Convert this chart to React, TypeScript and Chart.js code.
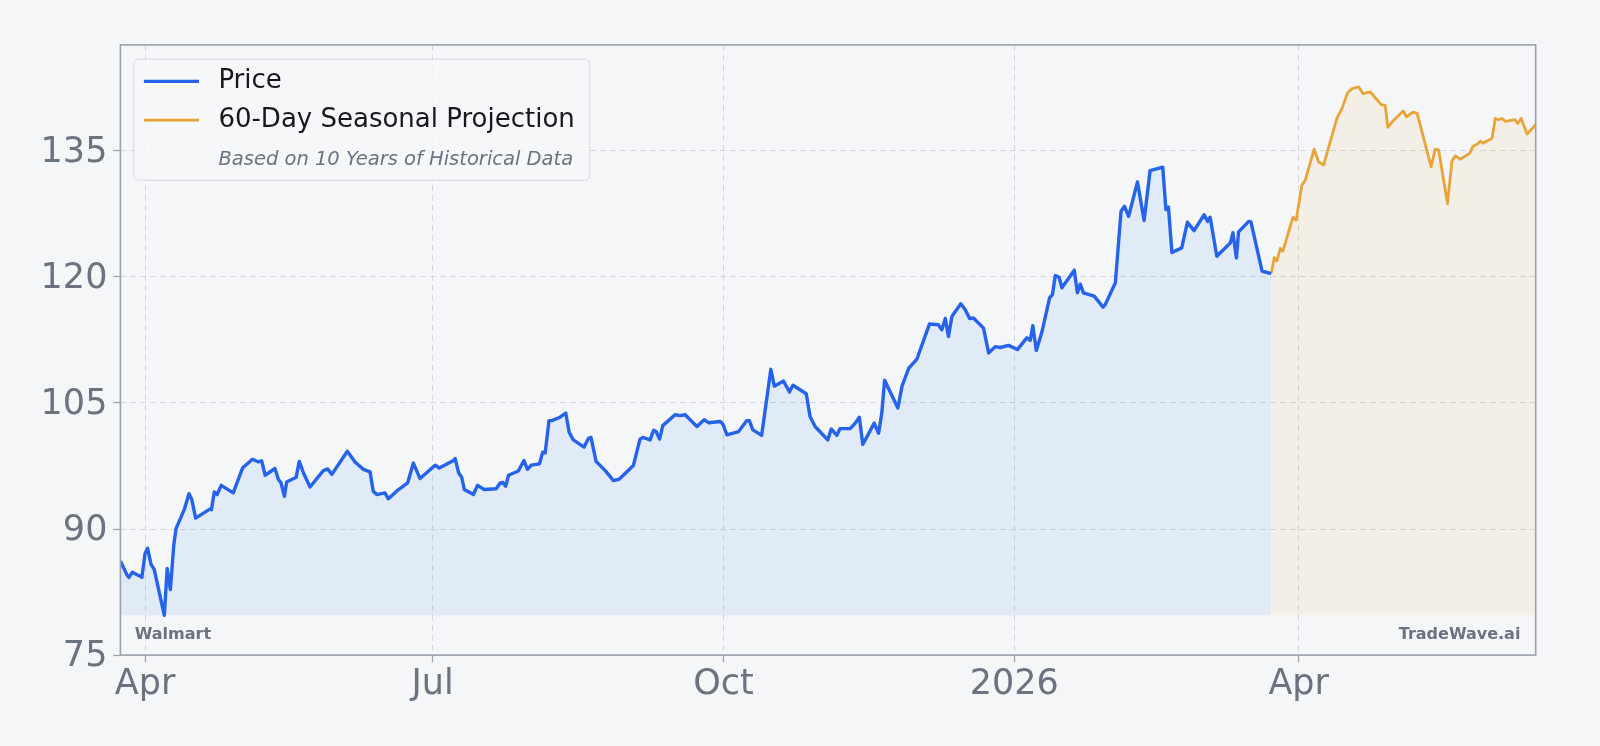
import React, { useEffect, useRef } from "react";
import { Chart, registerables } from "chart.js";

Chart.register(...registerables);

// Day offsets from 1 Apr 2025
const priceDays = [
  -7.8, -5.8, -5.1, -4.0, -1.0, 0.0, 0.8, 1.9, 2.9, 6.1, 7.0, 8.0, 9.1, 9.8, 12.4, 13.9, 14.8, 16.0,
  20.6, 21.0, 21.9, 22.8, 24.1, 27.9, 30.9, 34.0, 35.7, 36.9, 38.0, 41.1, 42.2, 43.0, 44.1, 44.8,
  47.8, 48.8, 50.1, 52.2, 56.4, 57.8, 59.1, 64.0, 66.5, 69.1, 71.2, 72.2, 73.3, 75.9, 77.0, 80.2,
  83.1, 84.9, 87.0, 91.8, 93.1, 97.6, 98.1, 99.2, 100.2, 101.0, 103.9, 105.2, 107.3, 111.1, 112.3,
  113.2, 114.1, 115.0, 118.1, 119.9, 121.0, 122.2, 124.8, 125.8, 126.6, 127.8, 128.7, 131.3, 133.1,
  134.2, 135.5, 138.9, 140.3, 141.1, 142.7, 145.6, 148.2, 150.1, 154.5, 156.6, 157.5, 159.8, 160.9,
  161.7, 162.8, 163.8, 167.7, 169.3, 170.9, 174.6, 176.9, 178.3, 182.0, 182.8, 184.1, 187.8, 190.4,
  191.2, 192.3, 195.1, 198.0, 199.1, 202.0, 203.9, 205.0, 209.2, 210.4, 212.0, 216.0, 217.1, 218.9,
  219.9, 223.1, 224.7, 226.0, 227.1, 230.7, 232.1, 233.1, 234.0, 238.2, 239.5, 241.6, 244.2, 248.2,
  251.0, 252.1, 253.2, 254.2, 255.3, 258.1, 259.5, 260.9, 262.1, 265.3, 266.9, 269.0, 270.6, 273.2,
  276.0, 279.0, 280.1, 280.9, 282.0, 283.8, 286.2, 287.1, 288.0, 289.2, 290.1, 294.0, 295.0, 295.9,
  296.9, 300.3, 301.4, 303.1, 303.8, 307.0, 308.8, 309.9, 311.2, 314.0, 316.1, 318.0, 322.0, 323.0,
  323.8, 324.9, 328.0, 329.8, 331.9, 335.1, 336.2, 337.0, 339.1, 343.4, 344.2, 345.3, 346.0, 349.2,
  349.9, 353.4, 356.3,
];
const priceValues = [
  86.2, 84.6, 84.25, 84.85, 84.25, 87.1, 87.7, 85.8, 85.2, 79.73, 85.3, 82.8, 88.1, 90.05, 92.3, 94.2, 93.5, 91.3,
  92.4, 92.3, 94.4, 94.1, 95.2, 94.3, 97.3, 98.3, 98.0, 98.1, 96.4, 97.2, 95.9, 95.5, 93.9, 95.6,
  96.15, 98.05, 96.7, 95.0, 96.95, 97.15, 96.5, 99.25, 97.95, 97.1, 96.8, 94.5, 94.1, 94.3, 93.6, 94.7,
  95.5, 97.85, 96.0, 97.6, 97.25, 98.15, 98.4, 96.7, 96.15, 94.7, 94.1, 95.2, 94.7, 94.8, 95.45,
  95.55, 95.1, 96.4, 96.9, 98.15, 97.1, 97.6, 97.75, 99.15, 99.05, 102.9, 102.9, 103.3, 103.8,
  101.5, 100.6, 99.75, 100.8, 100.9, 98.05, 96.95, 95.75, 95.95, 97.55, 100.7, 100.9, 100.6, 101.75,
  101.6, 100.7, 102.3, 103.6, 103.5, 103.6, 102.2, 103.0, 102.65, 102.8, 102.5, 101.2, 101.6, 102.9,
  102.9, 101.8, 101.15, 109.0, 107.0, 107.6, 106.3, 107.1, 106.1, 103.4, 102.2, 100.6, 101.9, 101.15,
  101.95, 101.95, 102.6, 103.3, 100.05, 102.6, 101.4, 103.8, 107.7, 104.4, 107.0, 109.1, 110.2, 114.4,
  114.3, 113.7, 115.05, 112.9, 115.3, 116.8, 116.1, 115.05, 115.1, 113.9, 110.95, 111.7, 111.6, 111.85,
  111.35, 112.75, 112.45, 114.2, 111.25, 113.5, 117.5, 117.9, 120.15, 119.95, 118.7, 120.8, 118.1, 119.15,
  118.1, 117.7, 117.2, 116.4, 116.7, 119.3, 127.8, 128.4, 127.2, 131.3, 126.7, 132.65, 133.05, 128.0,
  128.3, 122.9, 123.45, 126.5, 125.5, 127.4, 126.6, 127.1, 122.45, 124.05, 125.25, 122.25, 125.35, 126.6,
  126.55, 120.7, 120.4,
];

const projDays = [
  356.3, 357.3, 358.1, 359.2, 360.0, 363.2, 364.2, 366.0, 367.1, 369.9, 371.3, 372.9, 377.1, 378.7,
  380.5, 381.9, 384.0, 385.4, 387.7, 391.1, 392.4, 393.2, 394.6, 398.1, 399.1, 401.2, 402.5, 405.1,
  406.9, 408.2, 409.3, 412.1, 413.5, 414.6, 416.1, 419.1, 420.2, 421.6, 422.5, 423.3, 426.2, 427.2,
  428.3, 429.3, 430.4, 433.5, 434.3, 435.4, 437.3, 440.0,
];
const projValues = [
  120.4, 122.3, 121.9, 123.4, 123.05, 127.1, 126.75, 130.9, 131.5, 135.2, 133.7, 133.3, 138.85, 140.05,
  141.9, 142.4, 142.6, 141.8, 142.0, 140.5, 140.4, 137.8, 138.45, 139.75, 139.05, 139.6, 139.45, 135.7,
  133.1, 135.2, 135.1, 128.7, 133.8, 134.4, 134.0, 134.7, 135.55, 135.8, 136.15, 135.9, 136.5, 138.85,
  138.7, 138.85, 138.5, 138.7, 138.25, 138.85, 137.0, 138.1,
];

const xTickDays = [0, 91, 183, 275, 365];
const xTickLabels = ["Apr", "Jul", "Oct", "2026", "Apr"];
const yTickValues = [75, 90, 105, 120, 135];

const X_MIN = -7.8;
const X_MAX = 440;
const Y_MIN = 75;
const Y_MAX = 147.6;

const BG = "#f4f6f8";
const BLUE = "#2563eb";
const ORANGE = "#e8a438";
const GRID = "#d3d7dd";
const FRAME = "#9aa0ad";
const TICK_TEXT = "#6b7280";
const FONT = "'DejaVu Sans', sans-serif";

const overlayPlugin = {
  id: "overlay",
  afterDraw(chart: any) {
    const { ctx, chartArea: a } = chart;
    ctx.save();
    // frame
    ctx.strokeStyle = FRAME;
    ctx.lineWidth = 1.6;
    ctx.setLineDash([]);
    ctx.strokeRect(a.left, a.top, a.right - a.left, a.bottom - a.top);

    // watermark texts
    ctx.fillStyle = TICK_TEXT;
    ctx.font = `bold 16px ${FONT}`;
    ctx.textBaseline = "middle";
    ctx.textAlign = "left";
    ctx.fillText("Walmart", a.left + 14.3, a.bottom - 20.4);
    ctx.textAlign = "right";
    ctx.fillText("TradeWave.ai", a.right - 15.3, a.bottom - 20.4);

    // legend
    const lx = a.left + 13.3;
    const ly = a.top + 14.3;
    const lw = 456;
    const lh = 121;
    ctx.beginPath();
    if ((ctx as any).roundRect) (ctx as any).roundRect(lx, ly, lw, lh, 5);
    else ctx.rect(lx, ly, lw, lh);
    ctx.fillStyle = "rgba(246,247,249,0.8)";
    ctx.fill();
    ctx.strokeStyle = "#d6dae0";
    ctx.lineWidth = 1;
    ctx.stroke();

    const sx0 = a.left + 23.5;
    const sx1 = a.left + 78.6;
    const tx = a.left + 98;
    const y1 = a.top + 36.5;
    const y2 = a.top + 75.3;
    const y3 = a.top + 115.2;
    ctx.lineCap = "butt";
    ctx.strokeStyle = BLUE;
    ctx.lineWidth = 3.4;
    ctx.beginPath();
    ctx.moveTo(sx0, y1);
    ctx.lineTo(sx1, y1);
    ctx.stroke();
    ctx.strokeStyle = ORANGE;
    ctx.lineWidth = 2.8;
    ctx.beginPath();
    ctx.moveTo(sx0, y2);
    ctx.lineTo(sx1, y2);
    ctx.stroke();

    ctx.fillStyle = "#15181d";
    ctx.font = `26px ${FONT}`;
    ctx.textAlign = "left";
    ctx.textBaseline = "middle";
    ctx.fillText("Price", tx, y1);
    ctx.fillText("60-Day Seasonal Projection", tx, y2);
    ctx.fillStyle = TICK_TEXT;
    ctx.font = `italic 19.5px ${FONT}`;
    ctx.fillText("Based on 10 Years of Historical Data", tx, y3);
    ctx.restore();
  },
};

export default function App() {
  const ref = useRef<HTMLCanvasElement>(null);

  useEffect(() => {
    document.body.style.margin = "0";
    document.body.style.background = BG;
    const fillBase = Math.min(...priceValues);
    const chart = new Chart(ref.current as HTMLCanvasElement, {
      type: "line",
      data: {
        datasets: [
          {
            label: "Price",
            data: priceDays.map((d, i) => ({ x: d, y: priceValues[i] })),
            borderColor: BLUE,
            borderWidth: 3.4,
            backgroundColor: "rgba(59,130,246,0.1)",
            fill: { value: fillBase },
            pointRadius: 0,
            tension: 0,
            borderJoinStyle: "round",
          },
          {
            label: "60-Day Seasonal Projection",
            data: projDays.map((d, i) => ({ x: d, y: projValues[i] })),
            borderColor: ORANGE,
            borderWidth: 2.8,
            backgroundColor: "rgba(232,164,56,0.09)",
            fill: { value: fillBase },
            pointRadius: 0,
            tension: 0,
            borderJoinStyle: "round",
          },
        ],
      },
      options: {
        responsive: false,
        animation: false,
        devicePixelRatio: 1,
        layout: { padding: { top: 44.9, right: 64.3, left: 0, bottom: 0 } },
        plugins: { legend: { display: false }, tooltip: { enabled: false } },
        scales: {
          x: {
            type: "linear",
            min: X_MIN,
            max: X_MAX,
            afterBuildTicks: (ax: any) => {
              ax.ticks = xTickDays.map((v) => ({ value: v }));
            },
            afterFit: (ax: any) => {
              ax.height = 90.9;
            },
            ticks: {
              callback: (_v: any, i: number) => xTickLabels[i],
              font: { family: FONT, size: 35 },
              color: TICK_TEXT,
              padding: 2,
              maxRotation: 0,
              autoSkip: false,
            },
            grid: {
              color: GRID,
              lineWidth: 1,
              drawTicks: true,
              tickLength: 7,
              tickColor: FRAME,
              tickWidth: 1.2,
              tickBorderDash: [],
            },
            border: { display: false, dash: [6, 4] },
          },
          y: {
            type: "linear",
            min: Y_MIN,
            max: Y_MAX,
            afterBuildTicks: (ax: any) => {
              ax.ticks = yTickValues.map((v) => ({ value: v }));
            },
            afterFit: (ax: any) => {
              ax.width = 120.4;
            },
            ticks: {
              callback: (v: any) => String(v),
              font: { family: FONT, size: 35 },
              color: TICK_TEXT,
              padding: 6,
              labelOffset: 2,
            },
            grid: {
              color: GRID,
              lineWidth: 1,
              drawTicks: true,
              tickLength: 7,
              tickColor: FRAME,
              tickWidth: 1.2,
              tickBorderDash: [],
            },
            border: { display: false, dash: [6, 4] },
          },
        },
      },
      plugins: [overlayPlugin],
    } as any);
    return () => chart.destroy();
  }, []);

  return (
    <div style={{ width: 1600, height: 746, background: BG }}>
      <canvas ref={ref} width={1600} height={746} style={{ display: "block" }} />
    </div>
  );
}
